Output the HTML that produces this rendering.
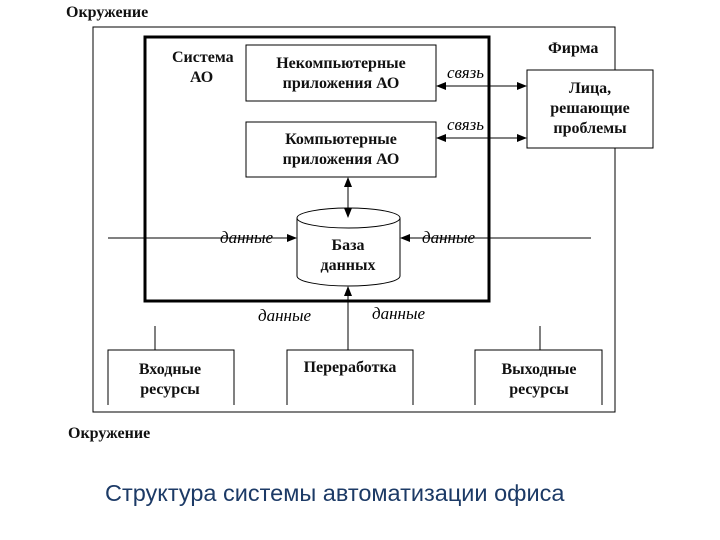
<!DOCTYPE html>
<html><head><meta charset="utf-8"><style>
body{margin:0;background:#fff;width:720px;height:540px;overflow:hidden}
svg{position:absolute;left:0;top:0}
.t{font-family:"Liberation Serif",serif;font-size:16px;font-weight:bold;fill:#111}
.i{font-family:"Liberation Serif",serif;font-style:italic;font-size:17px;fill:#000}
.cap{position:absolute;left:105px;top:480px;font-family:"Liberation Sans",sans-serif;font-size:23.5px;color:#1c3a66;white-space:nowrap}
</style></head><body>
<svg width="720" height="540" viewBox="0 0 720 540">
<defs><marker id="a" markerWidth="10" markerHeight="8" refX="9" refY="4" orient="auto-start-reverse" markerUnits="userSpaceOnUse"><path d="M0,0L10,4L0,8z" fill="#000"/></marker></defs>
<text class="t" x="66" y="17">Окружение</text>
<rect x="93" y="27" width="522" height="385" fill="none" stroke="#000" stroke-width="1"/>
<rect x="145" y="37" width="344" height="264" fill="none" stroke="#000" stroke-width="3"/>
<text class="t" x="172" y="62">Система</text>
<text class="t" x="190" y="82">АО</text>
<text class="t" x="548" y="53">Фирма</text>
<rect x="246" y="45" width="190" height="56" fill="#fff" stroke="#000"/>
<text class="t" x="341" y="68" text-anchor="middle">Некомпьютерные</text>
<text class="t" x="341" y="88" text-anchor="middle">приложения АО</text>
<rect x="246" y="122" width="190" height="55" fill="#fff" stroke="#000"/>
<text class="t" x="341" y="144" text-anchor="middle">Компьютерные</text>
<text class="t" x="341" y="164" text-anchor="middle">приложения АО</text>
<rect x="527" y="70" width="126" height="78" fill="#fff" stroke="#000"/>
<text class="t" x="590" y="93" text-anchor="middle">Лица,</text>
<text class="t" x="590" y="113" text-anchor="middle">решающие</text>
<text class="t" x="590" y="133" text-anchor="middle">проблемы</text>
<line x1="437" y1="86" x2="526" y2="86" stroke="#000" marker-start="url(#a)" marker-end="url(#a)"/>
<line x1="437" y1="138" x2="526" y2="138" stroke="#000" marker-start="url(#a)" marker-end="url(#a)"/>
<text class="i" x="447" y="78" font-size="14">связь</text>
<text class="i" x="447" y="130" font-size="14">связь</text>
<path d="M297,218 L297,276 A51.5,10 0 0 0 400,276 L400,218" fill="#fff" stroke="#000"/>
<ellipse cx="348.5" cy="218" rx="51.5" ry="10" fill="#fff" stroke="#000"/>
<line x1="348" y1="178" x2="348" y2="217" stroke="#000" marker-start="url(#a)" marker-end="url(#a)"/>
<text class="t" x="348" y="250" text-anchor="middle">База</text>
<text class="t" x="348" y="270" text-anchor="middle">данных</text>
<line x1="108" y1="238" x2="296" y2="238" stroke="#000" marker-end="url(#a)"/>
<line x1="591" y1="238" x2="401" y2="238" stroke="#000" marker-end="url(#a)"/>
<text class="i" x="220" y="243">данные</text>
<text class="i" x="422" y="243">данные</text>
<line x1="348" y1="350" x2="348" y2="287" stroke="#000" marker-end="url(#a)"/>
<text class="i" x="258" y="321">данные</text>
<text class="i" x="372" y="319">данные</text>
<line x1="155" y1="326" x2="155" y2="350" stroke="#000"/>
<line x1="540" y1="326" x2="540" y2="350" stroke="#000"/>
<path d="M108,405 V350 H234 V405" fill="none" stroke="#000"/>
<path d="M287,405 V350 H413 V405" fill="none" stroke="#000"/>
<path d="M475,405 V350 H602 V405" fill="none" stroke="#000"/>
<text class="t" x="170" y="374" text-anchor="middle">Входные</text>
<text class="t" x="170" y="394" text-anchor="middle">ресурсы</text>
<text class="t" x="350" y="372" text-anchor="middle">Переработка</text>
<text class="t" x="539" y="374" text-anchor="middle">Выходные</text>
<text class="t" x="539" y="394" text-anchor="middle">ресурсы</text>
<text class="t" x="68" y="438">Окружение</text>
</svg>
<div class="cap">Структура системы автоматизации офиса</div>
</body></html>
